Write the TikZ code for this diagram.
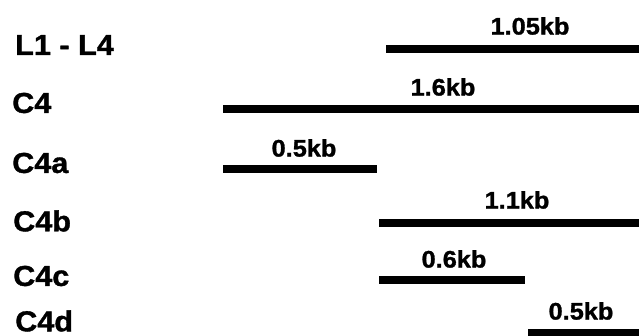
\documentclass[tikz,border=0pt]{standalone}
\usepackage{fontspec}
\setmainfont{Liberation Sans}[BoldFeatures={FakeBold=1.2,FakeStretch=1.06}]
\tikzset{
  clone/.style={anchor=west,inner sep=0pt,font=\fontsize{29}{30}\selectfont\bfseries},
  size/.style={inner sep=0pt,font=\fontsize{24}{26}\selectfont\bfseries},
  bar/.style={line width=7.5bp}
}
\begin{document}
\begin{tikzpicture}
		%%
  \useasboundingbox (0bp,0bp) rectangle (639bp,336bp);
  \node (L14) at (15.0bp,291.0bp) [clone] {L1 - L4};
  \node (C4) at (12.0bp,233.0bp) [clone] {C4};
  \node (C4a) at (12.0bp,173.0bp) [clone] {C4a};
  \node (C4b) at (13.0bp,115.0bp) [clone] {C4b};
  \node (C4c) at (13.0bp,60.0bp) [clone] {C4c};
  \node (C4d) at (15.0bp,15.0bp) [clone] {C4d};
  \coordinate (L14s) at (386.0bp,287.0bp);
  \coordinate (L14e) at (639.0bp,287.0bp);
  \coordinate (C4s) at (223.0bp,227.0bp);
  \coordinate (C4e) at (639.0bp,227.0bp);
  \coordinate (C4as) at (223.0bp,167.0bp);
  \coordinate (C4ae) at (377.0bp,167.0bp);
  \coordinate (C4bs) at (379.0bp,113.0bp);
  \coordinate (C4be) at (639.0bp,113.0bp);
  \coordinate (C4cs) at (379.0bp,56.0bp);
  \coordinate (C4ce) at (525.0bp,56.0bp);
  \coordinate (C4ds) at (528.0bp,3.0bp);
  \coordinate (C4de) at (639.0bp,3.0bp);
  \draw [bar] (L14s) -- (L14e);
  \draw [bar] (C4s) -- (C4e);
  \draw [bar] (C4as) -- (C4ae);
  \draw [bar] (C4bs) -- (C4be);
  \draw [bar] (C4cs) -- (C4ce);
  \draw [bar] (C4ds) -- (C4de);
  \node (kbL14) at (530.0bp,310.0bp) [size] {1.05kb};
  \node (kbC4) at (443.0bp,249.0bp) [size] {1.6kb};
  \node (kbC4a) at (304.0bp,188.0bp) [size] {0.5kb};
  \node (kbC4b) at (517.0bp,136.0bp) [size] {1.1kb};
  \node (kbC4c) at (454.0bp,77.0bp) [size] {0.6kb};
  \node (kbC4d) at (581.0bp,25.0bp) [size] {0.5kb};
		%
	\end{tikzpicture}
\end{document}
